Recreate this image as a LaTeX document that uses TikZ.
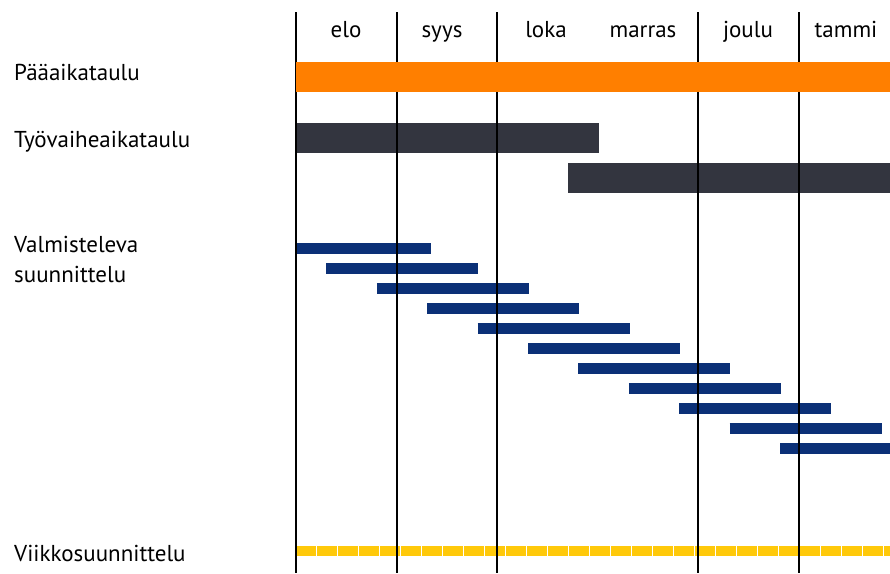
\documentclass[tikz,border=0pt]{standalone}
\usepackage{fontspec}
\setmainfont{PT Sans}
\definecolor{orangebar}{HTML}{FF7F00}
\definecolor{slatebar}{HTML}{33353F}
\definecolor{navybar}{HTML}{0B3077}
\definecolor{yellowbar}{HTML}{FFC90A}
\begin{document}
\begin{tikzpicture}[x=1pt,y=-1pt,
  rowlabel/.style={anchor=base west, inner sep=0pt, font=\fontsize{23}{27}\selectfont},
  monthlabel/.style={anchor=base, inner sep=0pt, font=\fontsize{23}{27}\selectfont},
  gridline/.style={line width=2.6pt, black},
  taskbar/.style={line width=11pt, navybar}]
\useasboundingbox (0,0) rectangle (890,573);

% row labels
\node[rowlabel] (paa) at (14,80) {Pääaikataulu};
\node[rowlabel] (tyo) at (14,147) {Työvaiheaikataulu};
\node[rowlabel] (val1) at (14,252) {Valmisteleva};
\node[rowlabel] (val2) at (14,282) {suunnittelu};
\node[rowlabel] (vii) at (14,561) {Viikkosuunnittelu};

% month labels
\node[monthlabel] (elo) at (346,37) {elo};
\node[monthlabel] (syys) at (442,37) {syys};
\node[monthlabel] (loka) at (546,37) {loka};
\node[monthlabel] (marras) at (643,37) {marras};
\node[monthlabel] (joulu) at (748,37) {joulu};
\node[monthlabel] (tammi) at (846,37) {tammi};

% working-phase schedule
\fill[slatebar] (296,123) rectangle (599,153);
\fill[slatebar] (568,163) rectangle (890,193);

% preparatory planning: staggered bars
\draw[taskbar] (296,248.5) -- (431,248.5);
\begin{scope}
  \clip (296,0) rectangle (890,573);
  \foreach \i in {1,...,10}
    \draw[taskbar] ({276+50.4*\i},{248.5+20*\i}) -- ({428+50.4*\i},{248.5+20*\i});
\end{scope}

% weekly planning
\draw[yellowbar, line width=10pt, dash pattern=on 19.5pt off 1.5pt] (296,551) -- (890,551);

% month dividers
\foreach \x in {296,397,497,698,799}
  \draw[gridline] (\x,12) -- (\x,573);

% master schedule
\fill[orangebar] (296,62) rectangle (890,92);
\end{tikzpicture}
\end{document}
